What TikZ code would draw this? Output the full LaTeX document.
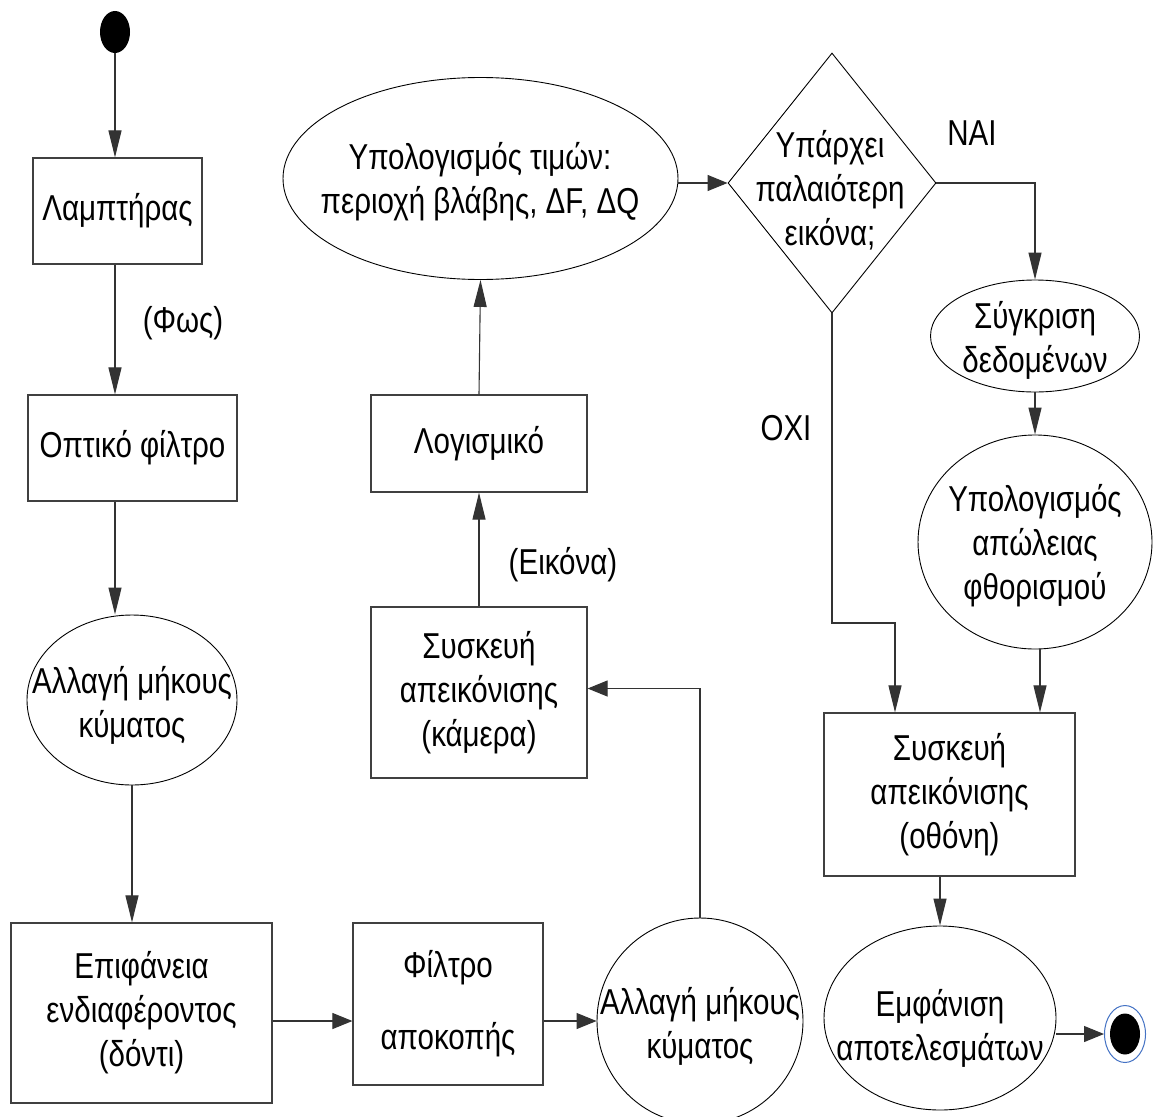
\documentclass[tikz,border=0pt]{standalone}
\usepackage{fontspec}
\setmainfont{Liberation Sans}[FakeStretch=0.82]
\usetikzlibrary{shapes.geometric,arrows.meta,calc}
\definecolor{endblue}{RGB}{68,114,196}

\begin{document}
\begin{tikzpicture}[x=1pt,y=-1pt,
  every node/.style={font=\fontsize{36}{44}\selectfont, align=center, inner sep=0pt},
  box/.style n args={2}{draw=black!75, line width=1.2pt, rectangle,
    minimum width=#1, minimum height=#2},
  oval/.style n args={2}{draw=black, line width=0.9pt, ellipse,
    minimum width=#1, minimum height=#2},
  decision/.style n args={2}{draw=black, line width=0.9pt, diamond,
    minimum width=#1, minimum height=#2},
  link/.style={draw=black!80, line width=1.1pt},
  varrow/.style={link, -{Triangle[length=27pt,width=13pt]}},
  harrow/.style={link, -{Triangle[length=20pt,width=16pt]}}]

\fill[white] (0,0) rectangle (1155,1116);
\useasboundingbox (0,0) rectangle (1155,1116);

% start and end points
\node[fill=black, ellipse, minimum width=30, minimum height=42] (start) at (115,32) {};
\node[draw=endblue, line width=1pt, ellipse, minimum width=41, minimum height=57] (endo) at (1125,1034) {};
\node[fill=black, ellipse, minimum width=30, minimum height=41] at (endo) {};

% left column
\node[box={169}{106}] (lamp) at (117.5,211) {Λαμπτήρας};
\node[box={209}{106}] (opt) at (132.5,448) {Οπτικό φίλτρο};
\node[oval={210}{170}] (wave1) at (132,700) {};
\node at (132,705) {Αλλαγή μήκους\\κύματος};
\node[box={261}{180}] (surf) at (141.5,1013) {Επιφάνεια\\ενδιαφέροντος\\(δόντι)};

% bottom row and middle column
\node[box={190}{162}] (filt) at (448,1004) {Φίλτρο\\[28pt]αποκοπής};
\node[oval={206}{206}] (wave2) at (700,1021) {};
\node at (700,1026) {Αλλαγή μήκους\\κύματος};
\node[box={216}{171}] (cam) at (479,692.5) {Συσκευή\\απεικόνισης\\(κάμερα)};
\node[box={216}{97}] (soft) at (479,443.5) {Λογισμικό};
\node[oval={395}{202}] (calc) at (480.5,178.5) {};
\node at (480,182) {Υπολογισμός τιμών:\\περιοχή βλάβης, ΔF, ΔQ};

% decision and right column
\node[decision={208}{260}] (dec) at (832,183) {};
\node at (830,190) {Υπάρχει\\παλαιότερη\\εικόνα;};
\node[oval={209}{112}] (cmp) at (1035,336) {};
\node at (1035,340) {Σύγκριση\\δεδομένων};
\node[oval={234}{214}] (loss) at (1035,542) {};
\node at (1035,546) {Υπολογισμός\\απώλειας\\φθορισμού};
\node[box={251}{163}] (scr) at (949.5,794.5) {Συσκευή\\απεικόνισης\\(οθόνη)};
\node[oval={232}{184}] (show) at (940,1018) {};
\node at (940,1028) {Εμφάνιση\\αποτελεσμάτων};

% connector labels
\node at (183,323) {(Φως)};
\node at (563,565) {(Εικόνα)};
\node at (972,133) {ΝΑΙ};
\node at (786,428) {ΟΧΙ};

% connectors
\draw[varrow] (start.south) -- (start.south |- lamp.north);
\draw[varrow] (lamp.south -| start) -- (opt.north -| start);
\draw[varrow] (opt.south -| start) -- (wave1.north -| start);
\draw[varrow] (wave1.south) -- (wave1.south |- surf.north);
\draw[harrow] (surf.east |- wave2) -- (filt.west |- wave2);
\draw[harrow] (filt.east |- wave2) -- (wave2.west);
\coordinate (camin) at ($(cam.east)+(0,-4)$);
\draw[harrow] (wave2.north) |- (camin);
\draw[varrow] (cam.north) -- (soft.south);
\draw[varrow] (soft.north) -- (calc.south);
\draw[harrow] (calc.east |- dec) -- (dec.west);
\draw[varrow] (dec.east) -| (cmp.north);
\draw[varrow] (cmp.south) -- (loss.north);
\coordinate (lossout) at ($(loss.south)+(5,0)$);
\draw[varrow] (lossout) -- (lossout |- scr.north);
\coordinate (nojoin) at (895,623);
\draw[varrow] (dec.south) |- (nojoin) -- (nojoin |- scr.north);
\draw[varrow] (scr.south -| show) -- (show.north);
\draw[harrow] (endo -| show.east) -- (endo.west);

\end{tikzpicture}
\end{document}
